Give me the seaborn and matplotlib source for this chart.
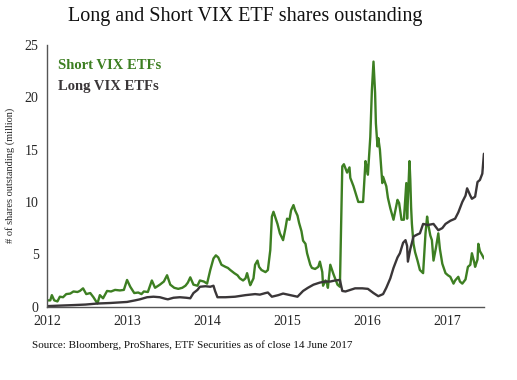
import matplotlib
matplotlib.use("Agg")
import matplotlib.pyplot as plt
import pandas as pd
import seaborn as sns

# decimal year, shares outstanding (million)
short_t = [2012.00, 2012.04, 2012.06, 2012.09, 2012.13, 2012.16, 2012.20, 2012.24, 2012.29, 2012.33,
           2012.38, 2012.41, 2012.45, 2012.49, 2012.54, 2012.58, 2012.63, 2012.66, 2012.70, 2012.75,
           2012.80, 2012.85, 2012.91, 2012.96, 2013.00, 2013.04, 2013.09, 2013.14, 2013.18, 2013.21,
           2013.26, 2013.31, 2013.35, 2013.41, 2013.46, 2013.50, 2013.54, 2013.59, 2013.64, 2013.69,
           2013.73, 2013.76, 2013.79, 2013.83, 2013.88, 2013.91, 2013.96, 2014.00, 2014.04, 2014.08,
           2014.11, 2014.14, 2014.18, 2014.23, 2014.26, 2014.29, 2014.34, 2014.38, 2014.41, 2014.45,
           2014.48, 2014.50, 2014.53, 2014.54, 2014.58, 2014.60, 2014.63, 2014.65, 2014.68, 2014.73,
           2014.76, 2014.79, 2014.81, 2014.83, 2014.85, 2014.88, 2014.91, 2014.95, 2014.98, 2015.00,
           2015.03, 2015.05, 2015.08, 2015.10, 2015.13, 2015.15, 2015.18, 2015.20, 2015.23, 2015.25,
           2015.29, 2015.31, 2015.35, 2015.39, 2015.41, 2015.44, 2015.45, 2015.48, 2015.50, 2015.51,
           2015.54, 2015.58, 2015.63, 2015.66, 2015.69, 2015.71, 2015.74, 2015.75, 2015.78, 2015.79,
           2015.83, 2015.85, 2015.89, 2015.95, 2015.98, 2015.99, 2016.01, 2016.04, 2016.06, 2016.08,
           2016.10, 2016.11, 2016.13, 2016.14, 2016.16, 2016.19, 2016.20, 2016.24, 2016.26, 2016.29,
           2016.33, 2016.38, 2016.40, 2016.43, 2016.46, 2016.49, 2016.50, 2016.53, 2016.54, 2016.55,
           2016.56, 2016.58, 2016.60, 2016.63, 2016.66, 2016.70, 2016.73, 2016.75, 2016.76, 2016.79,
           2016.81, 2016.83, 2016.86, 2016.89, 2016.91, 2016.94, 2016.98, 2017.01, 2017.04, 2017.08,
           2017.10, 2017.14, 2017.16, 2017.19, 2017.23, 2017.26, 2017.29, 2017.31, 2017.34, 2017.35,
           2017.38, 2017.39, 2017.41, 2017.44, 2017.46]
short_v = [0.6, 0.6, 1.1, 0.6, 0.5, 0.95, 0.9, 1.2, 1.25, 1.45,
           1.4, 1.5, 1.75, 1.2, 1.3, 0.9, 0.3, 1.1, 0.8, 1.5,
           1.45, 1.6, 1.55, 1.6, 2.55, 1.9, 1.3, 1.35, 1.2, 1.45,
           1.4, 2.5, 1.8, 2.1, 2.4, 3.0, 2.1, 1.8, 1.7, 1.8,
           2.0, 2.3, 2.8, 2.1, 2.0, 2.5, 2.4, 2.2, 3.5, 4.6,
           4.9, 4.7, 4.0, 3.8, 3.7, 3.5, 3.2, 3.0, 2.7, 2.5,
           2.7, 3.2, 2.3, 2.05, 2.7, 4.0, 4.4, 3.8, 3.5, 3.3,
           3.5, 5.4, 8.6, 9.06, 8.6, 7.9, 7.0, 6.35, 7.5, 8.4,
           8.3, 9.2, 9.7, 9.2, 8.7, 8.0, 7.2, 6.3, 6.0, 5.1,
           4.0, 3.7, 3.6, 3.8, 4.3, 3.3, 2.0, 2.5, 2.2, 1.8,
           4.0, 3.1, 2.1, 1.9, 13.4, 13.6, 13.0, 12.8, 13.3, 12.3,
           11.5, 11.0, 10.0, 10.0, 13.9, 13.5, 12.6, 16.2, 20.7, 23.4,
           20.4, 17.5, 15.3, 16.1, 15.0, 11.8, 12.4, 11.5, 10.4, 9.4,
           8.3, 10.2, 9.9, 8.3, 8.3, 11.8, 8.4, 13.9, 12.1, 9.5,
           7.9, 6.0, 5.2, 4.4, 3.5, 3.2, 7.0, 8.6, 8.0, 6.8,
           6.35, 4.4, 5.6, 7.0, 5.5, 4.1, 3.2, 3.0, 2.85, 2.2,
           2.5, 2.85, 2.4, 2.2, 2.6, 3.8, 4.0, 5.1, 4.2, 3.8,
           4.5, 6.0, 5.3, 4.9, 4.6]

long_t = [2012.00, 2012.16, 2012.33, 2012.48, 2012.63, 2012.79, 2013.00, 2013.10, 2013.16, 2013.25,
          2013.33, 2013.41, 2013.48, 2013.51, 2013.58, 2013.66, 2013.74, 2013.79, 2013.83, 2013.88,
          2013.91, 2013.98, 2014.04, 2014.08, 2014.10, 2014.13, 2014.23, 2014.35, 2014.48, 2014.60,
          2014.66, 2014.73, 2014.76, 2014.81, 2014.89, 2014.95, 2015.04, 2015.13, 2015.20, 2015.26,
          2015.33, 2015.41, 2015.48, 2015.54, 2015.60, 2015.66, 2015.69, 2015.73, 2015.79, 2015.85,
          2015.94, 2016.01, 2016.08, 2016.14, 2016.20, 2016.24, 2016.29, 2016.33, 2016.38, 2016.41,
          2016.45, 2016.48, 2016.50, 2016.51, 2016.54, 2016.58, 2016.63, 2016.66, 2016.70, 2016.76,
          2016.83, 2016.89, 2016.94, 2016.98, 2017.04, 2017.10, 2017.14, 2017.19, 2017.23, 2017.25,
          2017.29, 2017.31, 2017.35, 2017.38, 2017.41, 2017.44, 2017.46]
long_v = [0.05, 0.1, 0.15, 0.2, 0.3, 0.35, 0.45, 0.6, 0.7, 0.9,
          0.95, 0.9, 0.75, 0.7, 0.85, 0.9, 0.85, 0.8, 1.3, 1.6,
          1.9, 1.95, 1.9, 2.0, 1.5, 0.9, 0.9, 0.95, 1.1, 1.2,
          1.15, 1.3, 1.35, 0.95, 1.1, 1.25, 1.1, 0.95, 1.5, 1.8,
          2.1, 2.3, 2.4, 2.4, 2.5, 2.55, 1.5, 1.45, 1.6, 1.75,
          1.75, 1.7, 1.3, 1.0, 1.2, 1.8, 2.7, 3.7, 4.7, 5.1,
          6.1, 6.35, 5.8, 4.3, 5.5, 6.7, 6.9, 7.0, 7.9, 7.8,
          7.9, 7.3, 7.5, 7.9, 8.2, 8.4, 9.0, 10.0, 10.6, 11.3,
          10.6, 10.3, 10.5, 11.9, 12.1, 12.7, 14.6]

years = [2012, 2013, 2014, 2015, 2016, 2017]
y_ticks = [0, 5, 10, 15, 20, 25]

green = "#3d7f22"
dark = "#3a3638"

sns.set_style("white")
plt.rcParams["font.family"] = ["Liberation Serif", "DejaVu Serif"]

short_df = pd.DataFrame({"t": short_t, "v": short_v})
long_df = pd.DataFrame({"t": long_t, "v": long_v})

fig = plt.figure(figsize=(5.17, 3.8), dpi=100)
ax = fig.add_axes([0.091, 0.193, 0.845, 0.689])

sns.lineplot(data=short_df, x="t", y="v", ax=ax, color=green, linewidth=1.7,
             estimator=None, sort=False)
sns.lineplot(data=long_df, x="t", y="v", ax=ax, color=dark, linewidth=1.7,
             estimator=None, sort=False)

ax.set_xlim(2012, 2017.46)
ax.set_ylim(0, 25)
ax.set_xticks(years)
ax.set_xticklabels([str(y) for y in years], fontsize=10)
ax.set_yticks(y_ticks)
ax.set_yticklabels([str(y) for y in y_ticks], fontsize=10)
ax.set_xlabel("")
ax.set_ylabel("# of shares outstanding (million)", fontsize=7.5)
ax.yaxis.set_label_coords(-0.073, 0.5)

for side in ["top", "right"]:
    ax.spines[side].set_visible(False)
for side in ["left", "bottom"]:
    ax.spines[side].set_color("#555555")
    ax.spines[side].set_linewidth(1.0)
ax.tick_params(axis="both", direction="out", length=3, width=0.8, color="#555555", pad=3)

ax.text(0.025, 0.92, "Short VIX ETFs", transform=ax.transAxes, color=green,
        fontsize=10.5, fontweight="bold", va="center")
ax.text(0.025, 0.84, "Long VIX ETFs", transform=ax.transAxes, color=dark,
        fontsize=10.5, fontweight="bold", va="center")

fig.text(245 / 517, 1 - 17 / 380, "Long and Short VIX ETF shares oustanding",
         fontsize=14.5, ha="center", va="center", color="#111111")
fig.text(32 / 517, 1 - 345 / 380,
         "Source: Bloomberg, ProShares, ETF Securities as of close 14 June 2017",
         fontsize=8, ha="left", va="center", color="#111111")

fig.savefig("out.png", dpi=100)
